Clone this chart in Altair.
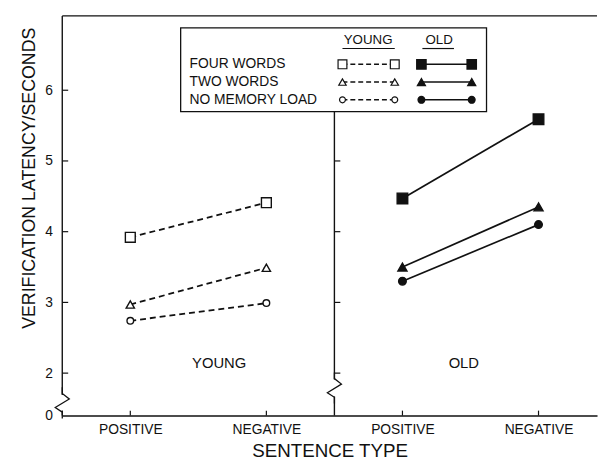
import altair as alt
import pandas as pd

# ---- data ----
groups = ["YOUNG", "OLD"]
loads = ["FOUR WORDS", "TWO WORDS", "NO MEMORY LOAD"]
sentence_types = ["POSITIVE", "NEGATIVE"]

young_four = [3.92, 4.41]
young_two = [2.97, 3.49]
young_none = [2.74, 2.99]
old_four = [4.47, 5.59]
old_two = [3.50, 4.35]
old_none = [3.30, 4.10]

y_tick_values = [2, 3, 4, 5, 6]
divider_tick_values = [2, 3, 4, 5]
y_title = "VERIFICATION LATENCY/SECONDS"
x_title = "SENTENCE TYPE"

series = {
    ("YOUNG", "FOUR WORDS"): young_four,
    ("YOUNG", "TWO WORDS"): young_two,
    ("YOUNG", "NO MEMORY LOAD"): young_none,
    ("OLD", "FOUR WORDS"): old_four,
    ("OLD", "TWO WORDS"): old_two,
    ("OLD", "NO MEMORY LOAD"): old_none,
}

rows = []
for gi, g in enumerate(groups):
    for load in loads:
        for si, s in enumerate(sentence_types):
            rows.append(dict(group=g, load=load, sentence=s,
                             pos=gi * 2 + si + 0.5,
                             latency=series[(g, load)][si]))
df = pd.DataFrame(rows)
tick_df = pd.DataFrame({"pos": sorted(df["pos"].unique())})
ytick_df = pd.DataFrame({"latency": y_tick_values})
dtick_df = pd.DataFrame({"latency": divider_tick_values})
one = pd.DataFrame({"k": [0]})

INK = "#111111"
FONT = "Liberation Sans"
W, H = 542, 405
XMAX = 3.93
YMIN, YMAX = 1.4, 7.05

label_expr = "(datum.value % 2) < 1 ? '" + sentence_types[0] + "' : '" + sentence_types[1] + "'"

x_enc = alt.X("pos:Q", scale=alt.Scale(domain=[0, XMAX], nice=False, zero=False),
              axis=alt.Axis(values=list(tick_df["pos"]), labelExpr=label_expr,
                            ticks=False, domain=True, grid=False, title=x_title,
                            labelPadding=7, labelFontSize=14, titleFontSize=19,
                            titlePadding=6, titleFontWeight="normal"))
y_enc = alt.Y("latency:Q", scale=alt.Scale(domain=[YMIN, YMAX], nice=False, zero=False),
              axis=alt.Axis(values=[YMIN] + y_tick_values,
                            labelExpr="datum.value < 1.5 ? '0' : format(datum.value, 'd')",
                            ticks=False, domain=False, grid=False, title=y_title,
                            labelPadding=10, labelFontSize=14, titleFontSize=18,
                            titleFontWeight="normal", titleX=-33, titleY=164,
                            titleAlign="center", titleBaseline="middle"))

shapes = {"FOUR WORDS": ("square", 100, 115), "TWO WORDS": ("triangle-up", 70, 85),
          "NO MEMORY LOAD": ("circle", 45, 60)}

layers = []
# data lines and markers
for g in groups:
    young = g == "YOUNG"
    for load in loads:
        sub = df[(df.group == g) & (df.load == load)]
        line_kw = dict(color=INK, strokeWidth=1.8 if young else 1.7)
        if young:
            line_kw["strokeDash"] = [6, 4]
        layers.append(alt.Chart(sub).mark_line(**line_kw).encode(x=x_enc, y=y_enc))
for g in groups:
    young = g == "YOUNG"
    for load in loads:
        sub = df[(df.group == g) & (df.load == load)]
        shp, s_open, s_fill = shapes[load]
        layers.append(alt.Chart(sub).mark_point(
            shape=shp, size=s_open if young else s_fill, filled=True,
            fill="white" if young else INK, stroke=INK, strokeWidth=1.4, opacity=1
        ).encode(x=x_enc, y=y_enc))

# frame: top line, left axis line with break, divider with break, inward ticks
layers.append(alt.Chart(one).mark_rule(color=INK, strokeWidth=1.3).encode(
    x=alt.value(0), x2=alt.value(W), y=alt.datum(YMAX)))
layers.append(alt.Chart(one).mark_rule(color=INK, strokeWidth=1.4).encode(
    x=alt.value(0), y=alt.datum(1.69), y2=alt.datum(YMAX)))
layers.append(alt.Chart(one).mark_rule(color=INK, strokeWidth=1.4).encode(
    x=alt.value(0), y=alt.datum(YMIN), y2=alt.datum(1.47)))
zig = "M0,-1L0,-0.6L0.45,-0.25L-0.45,0.3L0,0.6L0,1"
layers.append(alt.Chart(one).mark_point(shape=zig, size=1000, filled=False, stroke=INK,
                                        strokeWidth=1.3, opacity=1).encode(
    x=alt.value(0), y=alt.datum(1.58)))
layers.append(alt.Chart(one).mark_rule(color=INK, strokeWidth=1.4).encode(
    x=alt.datum(2), y=alt.datum(1.91), y2=alt.value(97)))
layers.append(alt.Chart(one).mark_rule(color=INK, strokeWidth=1.4).encode(
    x=alt.datum(2), y=alt.datum(YMIN), y2=alt.datum(1.67)))
layers.append(alt.Chart(one).mark_point(shape=zig, size=1000, filled=False, stroke=INK,
                                        strokeWidth=1.3, opacity=1).encode(
    x=alt.datum(2), y=alt.datum(1.79)))
layers.append(alt.Chart(ytick_df).mark_rule(color=INK, strokeWidth=1.2).encode(
    x=alt.value(0), x2=alt.value(6), y="latency:Q"))
layers.append(alt.Chart(dtick_df).mark_rule(color=INK, strokeWidth=1.2).encode(
    x=alt.datum(2), x2=alt.datum(2 + 6 / 138), y="latency:Q"))
layers.append(alt.Chart(tick_df).mark_rule(color=INK, strokeWidth=1.2).encode(
    x="pos:Q", y=alt.value(H), y2=alt.value(H - 5)))

# panel labels
for g, px in zip(groups, [159, 407]):
    layers.append(alt.Chart(one).mark_text(text=g, font=FONT, fontSize=15, color=INK,
                                           align="center", baseline="middle").encode(
        x=alt.value(px), y=alt.value(352)))

# custom legend box
layers.append(alt.Chart(one).mark_rect(fill="white", stroke=INK, strokeWidth=1.3).encode(
    x=alt.value(120), x2=alt.value(430), y=alt.value(12), y2=alt.value(97)))
for g, cx, ux in zip(groups, [310, 382], [(284, 337), (365, 397)]):
    layers.append(alt.Chart(one).mark_text(text=g, font=FONT, fontSize=13.5, color=INK,
                                           align="center", baseline="middle").encode(
        x=alt.value(cx), y=alt.value(24)))
    layers.append(alt.Chart(one).mark_rule(color=INK, strokeWidth=1.2).encode(
        x=alt.value(ux[0]), x2=alt.value(ux[1]), y=alt.value(33)))
for load, ry in zip(loads, [49, 67, 85]):
    layers.append(alt.Chart(one).mark_text(text=load, font=FONT, fontSize=14, color=INK,
                                           align="left", baseline="middle").encode(
        x=alt.value(129), y=alt.value(ry)))
    shp, s_open, s_fill = shapes[load]
    for g, (lx, rx) in zip(groups, [(284, 337), (364, 415)]):
        young = g == "YOUNG"
        rule_kw = dict(color=INK, strokeWidth=1.5)
        if young:
            rule_kw["strokeDash"] = [5, 3]
        layers.append(alt.Chart(one).mark_rule(**rule_kw).encode(
            x=alt.value(lx), x2=alt.value(rx), y=alt.value(ry)))
        for px in (lx, rx):
            layers.append(alt.Chart(one).mark_point(
                shape=shp, size=(s_open if young else s_fill) * 0.8, filled=True,
                fill="white" if young else INK, stroke=INK, strokeWidth=1.2, opacity=1
            ).encode(x=alt.value(px), y=alt.value(ry)))

chart = alt.layer(*layers).properties(
    width=W, height=H,
    padding={"left": 55, "top": 5, "right": 2, "bottom": 45},
    autosize=alt.AutoSizeParams(type="none"),
    background="white",
).configure_view(stroke=None).configure_axis(
    labelFont=FONT, titleFont=FONT, labelColor=INK, titleColor=INK,
    domainColor=INK, domainWidth=1.4,
)

chart.save("out.html", embed_options={"renderer": "svg", "actions": False})
